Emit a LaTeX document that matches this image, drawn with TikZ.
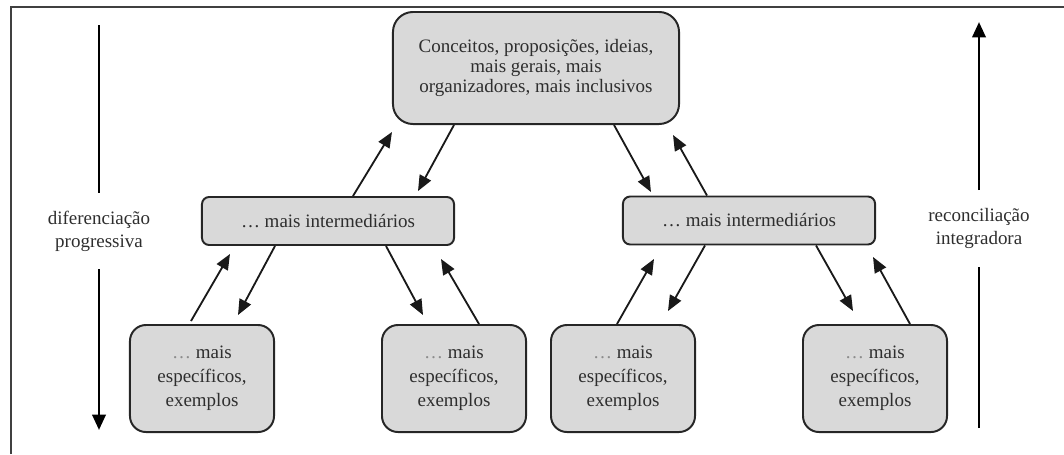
\documentclass[tikz,border=0pt]{standalone}
\usepackage{fontspec}
\setmainfont{Liberation Serif}
\usetikzlibrary{arrows.meta,calc}

\begin{document}
\begin{tikzpicture}[x=0.025cm, y=-0.025cm,
    caixa/.style={draw=black!85, line width=1.4pt, fill=black!15, align=center,
      text=black!82, inner sep=2pt, font=\fontsize{13.5}{17}\selectfont},
    seta/.style={-{Triangle[length=11pt,width=9pt]}, line width=1.3pt, black!90},
    eixo/.style={line width=2pt, black},
    rotulo/.style={align=center, text=black!82, inner sep=0pt, minimum height=1.9cm,
      font=\fontsize{13.5}{16.4}\selectfont}]
  \useasboundingbox (0,0) rectangle (1064,454);
  % moldura
  \draw[line width=2pt, black!75] (11,454) -- (11,7) -- (1064,7);

  % caixas
  \node[caixa, rounded corners=0.5cm, minimum width=7.15cm, minimum height=2.8cm,
    font=\fontsize{13.5}{14}\selectfont] (geral) at (536,68)
    {\raisebox{-4pt}{\parbox{7cm}{\centering Conceitos, proposições, ideias,\\ mais gerais, mais\\ organizadores, mais inclusivos}}};
  \def \Meios{
    ml/328/221,
    mr/749/220.5}
  \foreach \id / \x / \y in \Meios{
    \node[caixa, rounded corners=0.18cm, minimum width=6.3cm, minimum height=1.2cm]
      (\id) at (\x, \y) {\dots\ mais intermediários};
  }
  \def \Baixos{
    b1/202,
    b2/454,
    b3/623,
    b4/875}
  \foreach \id / \x in \Baixos{
    \node[caixa, rounded corners=0.4cm, minimum width=3.6cm, minimum height=2.675cm]
      (\id) at (\x, 378.5) {{\color{black!45}\dots} mais\\ específicos,\\ exemplos};
  }

  % setas entre as caixas
  \def \Setas{
    ml.north/25/0/geral.south west/0/7,
    geral.south west/62/0/ml.north east/-37/-5,
    geral.south east/-66/0/mr.north west/29/-3.5,
    mr.north west/85/0/geral.south east/-7/10,
    b1.north/-11/-3/ml.south west/29/8,
    ml.south west/74/0/b1.north/36/-9,
    ml.south east/-69/0/b2.north/-31/-9,
    b2.north/25/0/ml.south east/-14/13,
    b3.north/-6/0/mr.south west/32/13.5,
    mr.south west/83/0/b3.north/45/-13,
    mr.south east/-60/0/b4.north/-22/-13,
    b4.north/35/0/mr.south east/-3/11.5}
  \foreach \na / \xa / \ya / \nb / \xb / \yb in \Setas{
    \draw[seta] ($(\na)+(\xa,\ya)$) -- ($(\nb)+(\xb,\yb)$);
  }

  % eixos laterais
  \node[rotulo] (dif) at (99,231) {diferenciação\\ progressiva};
  \node[rotulo] (rec) at (979,228.5) {reconciliação\\ integradora};
  \coordinate (dif topo) at (99,25);
  \coordinate (dif base) at (99,430);
  \coordinate (rec topo) at (979,22);
  \coordinate (rec base) at (979,428);
  \draw[eixo] (dif topo) -- (dif.north);
  \draw[eixo, -{Triangle[length=11pt,width=9.5pt]}] (dif.south) -- (dif base);
  \draw[eixo] (rec base) -- (rec.south);
  \draw[eixo, -{Triangle[length=11pt,width=9.5pt]}] (rec.north) -- (rec topo);
\end{tikzpicture}
\end{document}
